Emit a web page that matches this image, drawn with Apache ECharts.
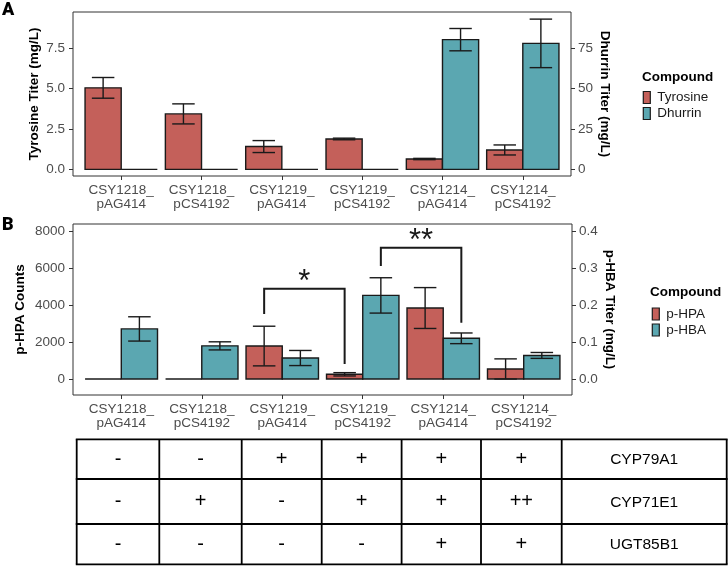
<!DOCTYPE html>
<html><head><meta charset="utf-8">
<script src="https://cdn.jsdelivr.net/npm/echarts@6/dist/echarts.min.js"></script>
<style>html,body{margin:0;padding:0;background:#fff}#c{width:728px;height:566px}</style>
</head><body><div id="c"></div>
<script>
// ---------- data ----------
const categories = ['CSY1218_\npAG414','CSY1218_\npCS4192','CSY1219_\npAG414','CSY1219_\npCS4192','CSY1214_\npAG414','CSY1214_\npCS4192'];
// Panel A
const tyrosine    = [5.04, 3.43, 1.41, 1.88, 0.64, 1.20];
const tyrosineErr = [0.64, 0.62, 0.37, 0.05, 0.04, 0.31];
const dhurrin     = [0, 0, 0, 0, 80.2, 77.9];
const dhurrinErr  = [0, 0, 0, 0, 6.9, 15.0];
// Panel B
const pHPA     = [0, 0, 1790, 255, 3855, 543];
const pHPAErr  = [0, 0, 1077, 90, 1110, 550];
const pHBA     = [0.136, 0.090, 0.057, 0.227, 0.1105, 0.064];
const pHBAErr  = [0.033, 0.011, 0.0205, 0.048, 0.0145, 0.008];
// tick labels
const ticksAleft  = [0, 2.5, 5.0, 7.5];
const ticksAright = [0, 25, 50, 75];
const ticksBleft  = [0, 2000, 4000, 6000, 8000];
const ticksBright = [0, 0.1, 0.2, 0.3, 0.4];
// significance brackets (category index, bar side -1 = p-HPA / +1 = p-HBA, leg end levels in p-HPA counts)
const bracketLabels = ['*', '**'];
const bracketFrom   = [[2, -1, 3530], [3, 1, 6135]];
const bracketTo     = [[3, -1, 814],  [4, 1, 3056]];
const bracketTop    = [4900, 7128];
// construct table
const genes = ['CYP79A1', 'CYP71E1', 'UGT85B1'];
const geneTable = [
  ['-', '-', '+', '+', '+', '+'],
  ['-', '+', '-', '+', '+', '++'],
  ['-', '-', '-', '-', '+', '+']
];

// ---------- styling ----------
const RED = '#C4605A', TEAL = '#5BA7B1', INK = '#1a1a1a';
const FONT = '"Liberation Sans", Arial, sans-serif';
const catIdx = categories.map((_, i) => i);
const BARW = 0.45, CAP = 0.14;

function barSeries(name, vals, errs, side, xi, yi, color) {
  return {
    type: 'custom', name, xAxisIndex: xi, yAxisIndex: yi,
    itemStyle: { color }, clip: false,
    data: vals.map((v, i) => [i, v, errs[i]]),
    encode: { x: 0, y: 1 },
    renderItem(params, api) {
      const i = api.value(0), v = api.value(1), e = api.value(2);
      const x0 = side < 0 ? i - BARW : i, x1 = side < 0 ? i : i + BARW;
      const xc = (x0 + x1) / 2;
      const p0 = api.coord([x0, 0]), p1 = api.coord([x1, v]);
      const ch = [];
      if (v > 0) {
        ch.push({ type: 'rect', shape: { x: p0[0], y: p1[1], width: p1[0] - p0[0], height: p0[1] - p1[1] },
          style: { fill: api.visual('color'), stroke: INK, lineWidth: 1.4 } });
      } else {
        ch.push({ type: 'line', shape: { x1: p0[0], y1: p0[1], x2: p1[0], y2: p0[1] }, style: { stroke: INK, lineWidth: 1.4 } });
      }
      if (e > 0) {
        const lo = Math.max(v - e, 0);
        const t = api.coord([xc, v + e]), b = api.coord([xc, lo]);
        const l = api.coord([xc - CAP, v])[0], r = api.coord([xc + CAP, v])[0];
        const st = { stroke: INK, lineWidth: 1.4 };
        ch.push({ type: 'line', shape: { x1: t[0], y1: t[1], x2: b[0], y2: b[1] }, style: st });
        ch.push({ type: 'line', shape: { x1: l, y1: t[1], x2: r, y2: t[1] }, style: st });
        ch.push({ type: 'line', shape: { x1: l, y1: b[1], x2: r, y2: b[1] }, style: st });
      }
      return { type: 'group', children: ch };
    }
  };
}

function xAxis(gi) {
  return {
    gridIndex: gi, type: 'value', min: -0.6, max: 5.6, position: 'bottom',
    axisLine: { show: false, onZero: false }, splitLine: { show: false },
    axisTick: { show: true, customValues: catIdx, length: 4, lineStyle: { color: '#333', width: 1 } },
    axisLabel: { customValues: catIdx, formatter: v => categories[Math.round(v)], fontSize: 13.5, lineHeight: 13.5,
      color: '#4D4D4D', margin: 8, fontFamily: FONT }
  };
}
function yAxis(gi, pos, min, max, ticks, fmt, name, gap, rot) {
  return {
    gridIndex: gi, type: 'value', position: pos, min, max,
    axisLine: { show: false, onZero: false }, splitLine: { show: false },
    axisTick: { show: true, customValues: ticks, length: 4, lineStyle: { color: '#333', width: 1 } },
    axisLabel: { customValues: ticks, formatter: fmt, fontSize: 13.5, color: '#4D4D4D', margin: pos === 'left' ? 8 : 7, fontFamily: FONT },
    name, nameLocation: 'middle', nameGap: gap, nameRotate: rot, nameMoveOverlap: false,
    nameTextStyle: { fontSize: 13.5, fontWeight: 'bold', color: '#000', fontFamily: FONT }
  };
}

const bracketSeries = {
  type: 'custom', name: 'sig', xAxisIndex: 1, yAxisIndex: 2, clip: false, silent: true,
  data: bracketLabels.map((l, k) => [
    bracketFrom[k][0] + bracketFrom[k][1] * BARW / 2, bracketFrom[k][2],
    bracketTo[k][0] + bracketTo[k][1] * BARW / 2, bracketTo[k][2], bracketTop[k]]),
  renderItem(params, api) {
    const a = api.coord([api.value(0), api.value(1)]);
    const b = api.coord([api.value(2), api.value(3)]);
    const ta = api.coord([api.value(0), api.value(4)]);
    const tb = api.coord([api.value(2), api.value(4)]);
    return { type: 'group', children: [
      { type: 'polyline', shape: { points: [a, ta, tb, b] }, style: { stroke: INK, lineWidth: 2, fill: null } },
      { type: 'text', x: (ta[0] + tb[0]) / 2, y: ta[1] - 6,
        style: { text: bracketLabels[params.dataIndex], fontSize: 31, fontFamily: FONT, fill: INK, align: 'center', verticalAlign: 'middle' } }
    ] };
  }
};

// table graphics
const colX = [76.7, 159.3, 241.7, 321.7, 401.6, 481, 561.7, 726.7];
const rowY = [439.3, 479, 524, 564.3];
const tableEls = [];
colX.forEach(x => tableEls.push({ type: 'line', shape: { x1: x, y1: rowY[0], x2: x, y2: rowY[3] }, style: { stroke: '#000', lineWidth: 1.8 } }));
rowY.forEach(y => tableEls.push({ type: 'line', shape: { x1: colX[0] - 0.9, y1: y, x2: colX[7] + 0.9, y2: y }, style: { stroke: '#000', lineWidth: 1.8 } }));
geneTable.forEach((row, r) => {
  const yc = (rowY[r] + rowY[r + 1]) / 2;
  row.forEach((s, c) => tableEls.push({ type: 'text', x: (colX[c] + colX[c + 1]) / 2, y: yc,
    style: { text: s, fontSize: 20, fontFamily: FONT, fill: '#000', align: 'center', verticalAlign: 'middle' } }));
  tableEls.push({ type: 'text', x: (colX[6] + colX[7]) / 2, y: yc + 1,
    style: { text: genes[r], fontSize: 15.5, fontFamily: FONT, fill: '#000', align: 'center', verticalAlign: 'middle' } });
});

const legendCommon = {
  orient: 'vertical', icon: 'rect', itemWidth: 7, itemHeight: 12, itemGap: 2, padding: 0,
  itemStyle: { borderColor: INK, borderWidth: 1.2 },
  textStyle: { fontSize: 13.5, color: INK, fontFamily: FONT, padding: [0, 0, 0, 2] },
  selectedMode: false
};

const option = {
  animation: false,
  backgroundColor: '#fff',
  textStyle: { fontFamily: FONT },
  title: [
    { text: 'A', left: 2, top: 1, padding: 0, textStyle: { fontSize: 18, fontWeight: 900, fontFamily: 'Roboto', color: '#000' } },
    { text: 'B', left: 2, top: 216, padding: 0, textStyle: { fontSize: 18, fontWeight: 900, fontFamily: 'Roboto', color: '#000' } },
    { text: 'Compound', left: 642, top: 70, padding: 0, textStyle: { fontSize: 13.5, fontWeight: 'bold', color: '#000', fontFamily: FONT } },
    { text: 'Compound', left: 650, top: 285, padding: 0, textStyle: { fontSize: 13.5, fontWeight: 'bold', color: '#000', fontFamily: FONT } }
  ],
  legend: [
    Object.assign({}, legendCommon, { left: 642.7, top: 90.5, data: ['Tyrosine', 'Dhurrin'] }),
    Object.assign({}, legendCommon, { left: 651.7, top: 307, data: ['p-HPA', 'p-HBA'] })
  ],
  grid: [
    { left: 73, top: 12, width: 498, height: 164, show: true, borderColor: '#333', borderWidth: 1, backgroundColor: 'transparent' },
    { left: 73, top: 224, width: 499, height: 171, show: true, borderColor: '#333', borderWidth: 1, backgroundColor: 'transparent' }
  ],
  xAxis: [xAxis(0), xAxis(1)],
  yAxis: [
    yAxis(0, 'left', -0.41, 9.73, ticksAleft, v => v.toFixed(1), 'Tyrosine Titer (mg/L)', 32, 90),
    yAxis(0, 'right', -4.1, 97.3, ticksAright, v => String(v), 'Dhurrin Titer (mg/L)', 27, -90),
    yAxis(1, 'left', -869, 8419, ticksBleft, v => String(v), 'p-HPA Counts', 46, 90),
    yAxis(1, 'right', -0.04345, 0.42095, ticksBright, v => v.toFixed(1), 'p-HBA Titer (mg/L)', 31, -90)
  ],
  series: [
    barSeries('Tyrosine', tyrosine, tyrosineErr, -1, 0, 0, RED),
    barSeries('Dhurrin', dhurrin, dhurrinErr, 1, 0, 1, TEAL),
    barSeries('p-HPA', pHPA, pHPAErr, -1, 1, 2, RED),
    barSeries('p-HBA', pHBA, pHBAErr, 1, 1, 3, TEAL),
    bracketSeries
  ],
  graphic: [{ type: 'group', silent: true, children: tableEls }]
};
const chart = echarts.init(document.getElementById('c'), null, { renderer: 'canvas' });
chart.setOption(option);
</script></body></html>
